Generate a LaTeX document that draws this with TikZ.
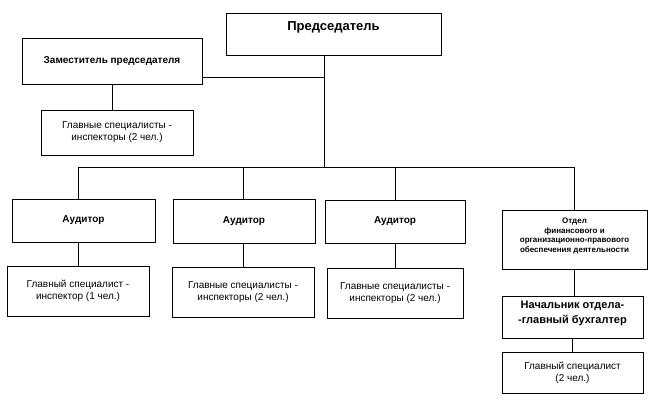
\documentclass[tikz,border=0pt]{standalone}
\usepackage{fontspec}
\setmainfont{Liberation Sans}
\usetikzlibrary{positioning, calc}

\begin{document}
\begin{tikzpicture}[
			x=1pt, y=-1pt,
			unit/.style={draw, line width=0.8pt, fill=white, align=center, inner sep=1pt},
			plain/.style={unit, font=\fontsize{10}{12}\selectfont},
			boss/.style={unit, font=\bfseries\fontsize{10}{12}\selectfont},
			link/.style={line width=0.6pt}
		]
		\useasboundingbox (0,0) rectangle (650,410);
		% top
		\node[unit, minimum width=215pt, text height=17pt, text depth=25pt, inner ysep=0pt,
			font=\bfseries\fontsize{13}{15}\selectfont] (pred) at (333.5,34) {Председатель};
		\node[boss, minimum width=180pt, minimum height=46pt] (zam) at (112,61) {Заместитель председателя};
		\node[plain, minimum width=152pt, minimum height=45pt] (zamspec) at (117,132.5) {Главные специалисты -\\инспекторы (2 чел.)};
		\coordinate (zamjoin) at (324,77);
		\coordinate (bus) at (324,167);
		% auditors
		\node[boss, minimum width=143pt, minimum height=43pt] (aud1) at (83.5,220.5) {Аудитор};
		\node[boss, minimum width=142pt, minimum height=44pt] (aud2) at (244,221) {Аудитор};
		\node[boss, minimum width=140pt, minimum height=43pt] (aud3) at (395,221.5) {Аудитор};
		\node[plain, minimum width=142pt, minimum height=50pt] (spec1) at (78,291) {Главный специалист -\\инспектор (1 чел.)};
		\node[plain, minimum width=142pt, minimum height=50pt] (spec2) at (243,292) {Главные специалисты -\\инспекторы (2 чел.)};
		\node[plain, minimum width=136pt, minimum height=50pt] (spec3) at (395,293) {Главные специалисты -\\инспекторы (2 чел.)};
		% department
		\node[unit, minimum width=145pt, minimum height=59pt, text depth=9pt,
			font=\bfseries\fontsize{8}{9.5}\selectfont] (otdel) at (574.5,239.5)
			{Отдел\\финансового и\\организационно-правового\\обеспечения деятельности};
		\node[unit, minimum width=141pt, minimum height=42pt, text depth=10pt,
			font=\bfseries\fontsize{11}{15}\selectfont] (nach) at (572.5,317) {Начальник отдела-\\-главный бухгалтер};
		\node[plain, minimum width=141pt, minimum height=41pt] (glspec) at (572.5,372.5) {Главный специалист\\(2 чел.)};
		% links
		\draw[link] (bus |- pred.south) -- (bus);
		\draw[link] (zam.east |- zamjoin) -- (zamjoin);
		\draw[link] (zam.south) -- (zam.south |- zamspec.north);
		\draw[link] (spec1.north |- aud1.north) -- (spec1.north |- bus) -- (otdel.north |- bus) -- (otdel.north);
		\draw[link] (spec2.north |- aud2.north) -- (spec2.north |- bus);
		\draw[link] (spec3.north |- aud3.north) -- (spec3.north |- bus);
		\draw[link] (spec1.north |- aud1.south) -- (spec1.north);
		\draw[link] (spec2.north |- aud2.south) -- (spec2.north);
		\draw[link] (spec3.north |- aud3.south) -- (spec3.north);
		\draw[link] (otdel.south) -- (otdel.south |- nach.north);
		\draw[link] (nach.south) -- (glspec.north);
	\end{tikzpicture}
\end{document}
